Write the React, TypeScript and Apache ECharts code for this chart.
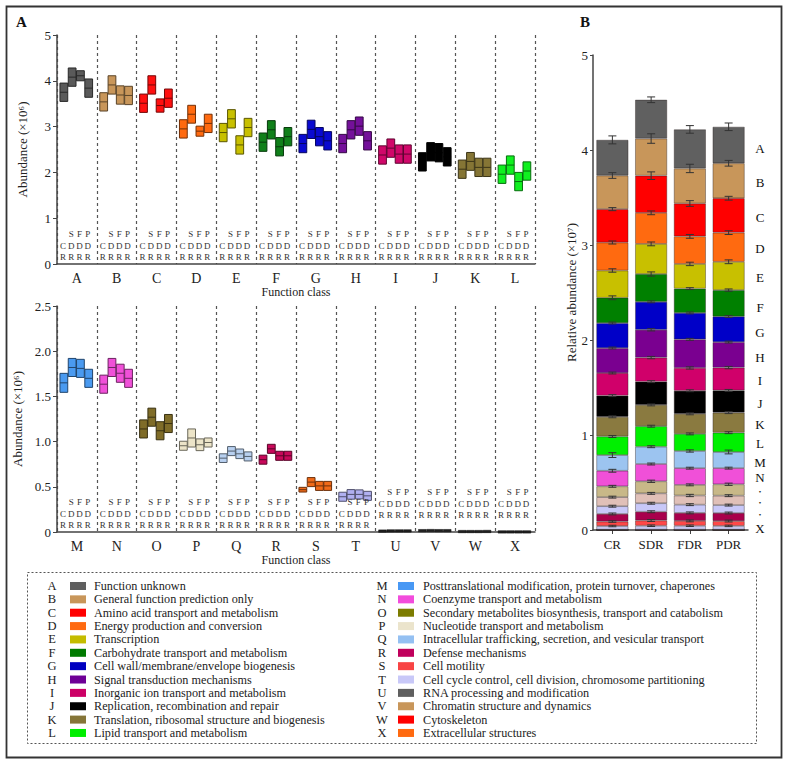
import React, { useEffect, useRef } from 'react';
import * as echarts from 'echarts';

const classes = ['A','B','C','D','E','F','G','H','I','J','K','L','M','N','O','P','Q','R','S','T','U','V','W','X'];
const groups = ['CR', 'SDR', 'FDR', 'PDR'];

// Panel A: mean abundance (x10^6) per function class
const meanCR  = [3.75,3.54,3.51,2.95,2.87,2.66,2.63,2.63,2.38,2.23,2.07,1.96,1.65,1.635,1.14,0.954,0.817,0.80,0.468,0.39,0.010,0.015,0.005,0.001];
const meanSDR = [4.08,3.91,3.91,3.27,3.17,2.93,2.94,2.93,2.53,2.45,2.24,2.16,1.82,1.82,1.27,1.04,0.895,0.92,0.552,0.416,0.012,0.016,0.005,0.001];
const meanFDR = [4.11,3.69,3.46,2.90,2.60,2.56,2.78,3.01,2.40,2.43,2.11,1.80,1.81,1.756,1.12,0.965,0.865,0.843,0.51,0.416,0.012,0.015,0.005,0.001];
const meanPDR = [3.84,3.68,3.62,3.07,2.98,2.78,2.69,2.69,2.40,2.34,2.11,2.03,1.70,1.70,1.20,0.99,0.836,0.843,0.51,0.40,0.012,0.015,0.006,0.001];
// half-height of each box (x10^6)
const sdCR  = [0.20,0.20,0.20,0.20,0.20,0.20,0.20,0.20,0.20,0.20,0.20,0.20,0.105,0.10,0.10,0.05,0.048,0.05,0.026,0.05,0.004,0.004,0.003,0.002];
const sdSDR = [0.20,0.20,0.20,0.195,0.20,0.20,0.20,0.20,0.20,0.20,0.195,0.20,0.10,0.10,0.10,0.10,0.05,0.05,0.05,0.053,0.004,0.004,0.003,0.002];
const sdFDR = [0.11,0.20,0.145,0.11,0.20,0.20,0.20,0.20,0.20,0.20,0.20,0.20,0.10,0.10,0.10,0.065,0.053,0.05,0.05,0.05,0.004,0.004,0.003,0.002];
const sdPDR = [0.20,0.20,0.20,0.20,0.20,0.20,0.20,0.20,0.20,0.20,0.20,0.20,0.10,0.10,0.10,0.05,0.05,0.05,0.05,0.05,0.004,0.004,0.003,0.002];
// Panel B: error bars (x10^7) at the top of each stacked segment
const errCR  = [0.042,0.03,0.016,0.016,0.018,0.02,0.01,0.01,0.01,0.01,0.01,0.01,0.025,0.015,0.01,0.01,0.01,0.01,0.008,0.008,0,0,0,0];
const errSDR = [0.03,0.05,0.04,0.02,0.02,0.022,0.01,0.012,0.012,0.01,0.01,0.01,0.01,0.01,0.012,0.01,0.01,0.01,0.01,0.008,0,0,0,0];
const errFDR = [0.04,0.044,0.03,0.02,0.018,0.01,0.01,0.01,0.012,0.01,0.01,0.01,0.012,0.01,0.01,0.012,0.01,0.01,0.01,0.008,0,0,0,0];
const errPDR = [0.04,0.03,0.02,0.02,0.02,0.012,0.01,0.01,0.012,0.01,0.01,0.01,0.02,0.01,0.012,0.01,0.01,0.01,0.01,0.008,0,0,0,0];

const topTicks = [0, 1, 2, 3, 4, 5];
const bottomTicks = [0, 0.5, 1.0, 1.5, 2.0, 2.5];

const legendNames = [
  'Function unknown',
  'General function prediction only',
  'Amino acid transport and metabolism',
  'Energy production and conversion',
  'Transcription',
  'Carbohydrate transport and metabolism',
  'Cell wall/membrane/envelope biogenesis',
  'Signal transduction mechanisms',
  'Inorganic ion transport and metabolism',
  'Replication, recombination and repair',
  'Translation, ribosomal structure and biogenesis',
  'Lipid transport and metabolism',
  'Posttranslational modification, protein turnover, chaperones',
  'Coenzyme transport and metabolism',
  'Secondary metabolites biosynthesis, transport and catabolism',
  'Nucleotide transport and metabolism',
  'Intracellular trafficking, secretion, and vesicular transport',
  'Defense mechanisms',
  'Cell motility',
  'Cell cycle control, cell division, chromosome partitioning',
  'RNA processing and modification',
  'Chromatin structure and dynamics',
  'Cytoskeleton',
  'Extracellular structures',
];

const legendColors = ['#5f5f5f','#c8965a','#ff0000','#ff6a10','#c4bc00','#007a00','#0000c0','#6e0096','#cc0066','#000000','#857538','#00ee00',
  '#4898f4','#f24cdc','#7c7c00','#ebe4cc','#94c0f2','#c0005c','#f84444','#c8c8f8','#5f5f5f','#c8965a','#ff0000','#ff6a10'];
const boxColors = ['#5a5a5a','#c8965a','#ff1010','#ff6a10','#c8c000','#10801a','#0a0ad0','#74109a','#d0086a','#000000','#857535','#10f020',
  '#4a9af0','#f050d8','#7f6c28','#ece4c8','#b8d0f0','#c8085a','#f06a18','#b0b0f0','#202020','#202020','#202020','#202020'];
const colorsB = ['#606060','#c8965a','#ff0000','#ff6a10','#c8c000','#008000','#0000c8','#7a0090','#d0006a','#000000','#8a7a40','#00f000',
  '#9cc4f0','#f050d8','#c8b888','#e0c0b8','#c8c8f8','#a8004c','#ff4848','#c8c8f0','#606060','#c8965a','#ff0000','#ff6a10'];

const rightLabels = [
  ['A', 148], ['B', 182], ['C', 217], ['D', 248], ['E', 277], ['F', 307], ['G', 332], ['H', 357], ['I', 380],
  ['J', 403], ['K', 424], ['L', 443], ['M', 462], ['N', 477], ['•', 492], ['•', 503], ['•', 515], ['X', 528],
];

const FONT = '"Liberation Serif", "Times New Roman", serif';

function darken(hex: string, f = 0.5) {
  const n = parseInt(hex.slice(1), 16);
  const r = Math.round(((n >> 16) & 255) * f);
  const g = Math.round(((n >> 8) & 255) * f);
  const b = Math.round((n & 255) * f);
  return `rgb(${r},${g},${b})`;
}

const means = [meanCR, meanSDR, meanFDR, meanPDR];
const sds = [sdCR, sdSDR, sdFDR, sdPDR];
const errs = [errCR, errSDR, errFDR, errPDR];

const boxRender = (params: any, api: any) => {
  const ci = api.value(0);
  const g = api.value(1);
  const m = api.value(2);
  const s = api.value(3);
  const k = api.value(4);
  const band = api.size([1, 0])[0];
  const base = api.coord([ci, m]);
  const cx = base[0] + ((g - 1.5) * 0.208 - 0.016) * band;
  const w = band * 0.195;
  let top = api.coord([ci, m + s])[1];
  let bot = api.coord([ci, m - s])[1];
  const tiny = bot - top < 2.4;
  if (tiny) { const mid = (top + bot) / 2; top = mid - 1.2; bot = mid + 1.2; }
  const fill = boxColors[k];
  const stroke = darken(fill, 0.45);
  const children: any[] = [
    { type: 'rect', shape: { x: cx - w / 2, y: top, width: w, height: bot - top }, style: { fill, stroke, lineWidth: tiny ? 0.5 : 1 } },
  ];
  if (!tiny) children.push({ type: 'line', shape: { x1: cx - w / 2, y1: base[1], x2: cx + w / 2, y2: base[1] }, style: { stroke, lineWidth: 1 } });
  return { type: 'group', children };
};

const letterRows = [['', 'S', 'F', 'P'], ['C', 'D', 'D', 'D'], ['R', 'R', 'R', 'R']];
const letterRender = (params: any, api: any) => {
  const ci = api.value(0);
  const shift = api.value(1);
  const band = api.size([1, 0])[0];
  const p = api.coord([ci, 0]);
  const offs = [-30, -18.5, -7];
  const children: any[] = [];
  letterRows.forEach((row, r) => {
    row.forEach((t, g) => {
      if (!t) return;
      children.push({
        type: 'text',
        x: p[0] + ((g - 1.5) * 0.208 - 0.04) * band,
        y: p[1] + offs[r] - shift,
        style: { text: t, fill: '#333', fontSize: 9, fontFamily: FONT, align: 'center', verticalAlign: 'middle' },
      });
    });
  });
  return { type: 'group', children };
};

const errRender = (params: any, api: any) => {
  const g = api.value(0);
  const top = api.value(1);
  const e = api.value(2);
  const p = api.coord([g, top]);
  const hi = api.coord([g, top + e])[1];
  const lo = api.coord([g, top - e])[1];
  const st = { stroke: '#333', lineWidth: 1 };
  return {
    type: 'group',
    children: [
      { type: 'line', shape: { x1: p[0], y1: hi, x2: p[0], y2: lo }, style: st },
      { type: 'line', shape: { x1: p[0] - 4, y1: hi, x2: p[0] + 4, y2: hi }, style: st },
      { type: 'line', shape: { x1: p[0] - 4, y1: lo, x2: p[0] + 4, y2: lo }, style: st },
    ],
  };
};

export default function App() {
  const ref = useRef<HTMLDivElement>(null);
  useEffect(() => {
    if (!ref.current) return;
    const chart = echarts.init(ref.current, undefined, { renderer: 'svg' });

    const boxDataTop: any[] = [];
    const boxDataBot: any[] = [];
    for (let k = 0; k < 24; k++) {
      for (let g = 0; g < 4; g++) {
        const item = [k % 12, g, means[g][k], sds[g][k], k];
        (k < 12 ? boxDataTop : boxDataBot).push(item);
      }
    }
    const lettersTop = classes.slice(0, 12).map((_, i) => [i, 0]);
    const lettersBot = classes.slice(12).map((_, i) => [i, i >= 8 ? 10 : 0]);

    // stacked bars (bottom = X, top = A), values x10^7
    const barSeries: any[] = [];
    const errData: any[] = [];
    const cum = [0, 0, 0, 0];
    for (let c = 23; c >= 0; c--) {
      const vals = groups.map((_, g) => means[g][c] / 10);
      barSeries.push({
        type: 'bar', name: classes[c], stack: 'total', xAxisIndex: 2, yAxisIndex: 2, barWidth: 32,
        data: vals,
        itemStyle: { color: colorsB[c], borderColor: 'rgba(40,30,30,0.55)', borderWidth: 0.7 },
        silent: true,
      });
      groups.forEach((_, g) => {
        cum[g] += vals[g];
        if (errs[g][c] > 0) errData.push([g, cum[g], errs[g][c]]);
      });
    }

    const axisLine = { show: true, lineStyle: { color: '#444', width: 1.5 } };
    const labelStyle = { color: '#222', fontFamily: FONT, fontSize: 13 };
    const splitDash = { show: true, interval: 0, lineStyle: { color: '#555', type: [3, 3], width: 1.2 } };

    const graphic: any[] = [];
    graphic.push({ type: 'rect', shape: { x: 6.5, y: 6.5, width: 775, height: 751 }, style: { fill: 'none', stroke: '#333', lineWidth: 1.8 }, silent: true });
    graphic.push({ type: 'rect', shape: { x: 27.5, y: 572.5, width: 729, height: 171 }, style: { fill: 'none', stroke: '#555', lineWidth: 1, lineDash: [2, 2] }, silent: true });
    graphic.push({ type: 'text', left: 16, top: 14, style: { text: 'A', fontSize: 15, fontWeight: 'bold', fontFamily: FONT, fill: '#111' } });
    graphic.push({ type: 'text', left: 580, top: 14, style: { text: 'B', fontSize: 15, fontWeight: 'bold', fontFamily: FONT, fill: '#111' } });
    rightLabels.forEach(([t, y]) => {
      const dot = t === '•';
      graphic.push({
        type: 'text', x: 760, y: y as number,
        style: { text: t, fontSize: dot ? 7 : 13, fontFamily: FONT, fill: '#111', align: 'center', verticalAlign: 'middle' },
      });
    });
    for (let i = 0; i < 24; i++) {
      const col = i < 12 ? 0 : 1;
      const r = i % 12;
      const y = 586 + r * 13.36;
      const lx = col === 0 ? 52 : 382;
      const sx = col === 0 ? 70 : 398;
      const tx = col === 0 ? 94 : 423;
      graphic.push({ type: 'text', x: lx, y, style: { text: classes[i], fontSize: 12.5, fontFamily: FONT, fill: '#222', align: 'center', verticalAlign: 'middle' } });
      graphic.push({ type: 'rect', shape: { x: sx, y: y - 4, width: 16, height: 8 }, style: { fill: legendColors[i] } });
      graphic.push({ type: 'text', x: tx, y, style: { text: legendNames[i], fontSize: 12.2, fontFamily: FONT, fill: '#222', align: 'left', verticalAlign: 'middle' } });
    }

    chart.setOption({
      animation: false,
      backgroundColor: '#fff',
      grid: [
        { left: 57, top: 35, width: 478, height: 229 },
        { left: 57, top: 306, width: 478, height: 226 },
        { left: 593, top: 55, width: 155, height: 475 },
      ],
      xAxis: [
        {
          type: 'category', gridIndex: 0, data: classes.slice(0, 12), axisLine, axisTick: { show: false },
          axisLabel: { ...labelStyle, fontSize: 14, margin: 7, interval: 0 }, splitLine: splitDash,
          name: 'Function class', nameLocation: 'middle', nameGap: 22, nameTextStyle: { ...labelStyle, fontSize: 12 },
        },
        {
          type: 'category', gridIndex: 1, data: classes.slice(12), axisLine, axisTick: { show: false },
          axisLabel: { ...labelStyle, fontSize: 14, margin: 7, interval: 0 }, splitLine: splitDash,
          name: 'Function class', nameLocation: 'middle', nameGap: 20, nameTextStyle: { ...labelStyle, fontSize: 12 },
        },
        {
          type: 'category', gridIndex: 2, data: groups, axisLine,
          axisTick: { show: true, alignWithLabel: true, length: 4, lineStyle: { color: '#444' } },
          axisLabel: { ...labelStyle, fontSize: 13, margin: 8 },
        },
      ],
      yAxis: [
        {
          type: 'value', gridIndex: 0, min: topTicks[0], max: topTicks[topTicks.length - 1], interval: 1,
          axisLine, axisTick: { show: true, length: 4, lineStyle: { color: '#444' } }, splitLine: { show: false },
          axisLabel: { ...labelStyle, margin: 6 },
          name: 'Abundance (×10⁶)', nameLocation: 'middle', nameGap: 28, nameTextStyle: { ...labelStyle, fontSize: 13 },
        },
        {
          type: 'value', gridIndex: 1, min: bottomTicks[0], max: bottomTicks[bottomTicks.length - 1], interval: 0.5,
          axisLine, axisTick: { show: true, length: 4, lineStyle: { color: '#444' } }, splitLine: { show: false },
          axisLabel: { ...labelStyle, margin: 6, formatter: (v: number) => (v === 0 ? '0' : v.toFixed(1)) },
          name: 'Abundance (×10⁶)', nameLocation: 'middle', nameGap: 28, nameTextStyle: { ...labelStyle, fontSize: 13 },
        },
        {
          type: 'value', gridIndex: 2, min: 0, max: 5, interval: 1,
          axisLine, axisTick: { show: true, length: 3, lineStyle: { color: '#444' } }, splitLine: { show: false },
          axisLabel: { ...labelStyle, margin: 5 },
          name: 'Relative abundance (×10⁷)', nameLocation: 'middle', nameGap: 13, nameTextStyle: { ...labelStyle, fontSize: 13 },
        },
      ],
      series: [
        { type: 'custom', xAxisIndex: 0, yAxisIndex: 0, data: boxDataTop, renderItem: boxRender, silent: true, z: 5 },
        { type: 'custom', xAxisIndex: 1, yAxisIndex: 1, data: boxDataBot, renderItem: boxRender, silent: true, z: 5 },
        { type: 'custom', xAxisIndex: 0, yAxisIndex: 0, data: lettersTop, renderItem: letterRender, silent: true, clip: false, z: 6 },
        { type: 'custom', xAxisIndex: 1, yAxisIndex: 1, data: lettersBot, renderItem: letterRender, silent: true, clip: false, z: 6 },
        ...barSeries,
        { type: 'custom', xAxisIndex: 2, yAxisIndex: 2, data: errData, renderItem: errRender, silent: true, clip: false, z: 10 },
      ],
      graphic,
    });
    return () => chart.dispose();
  }, []);
  return <div ref={ref} style={{ position: 'fixed', left: 0, top: 0, width: 788, height: 763, background: '#fff' }} />;
}
